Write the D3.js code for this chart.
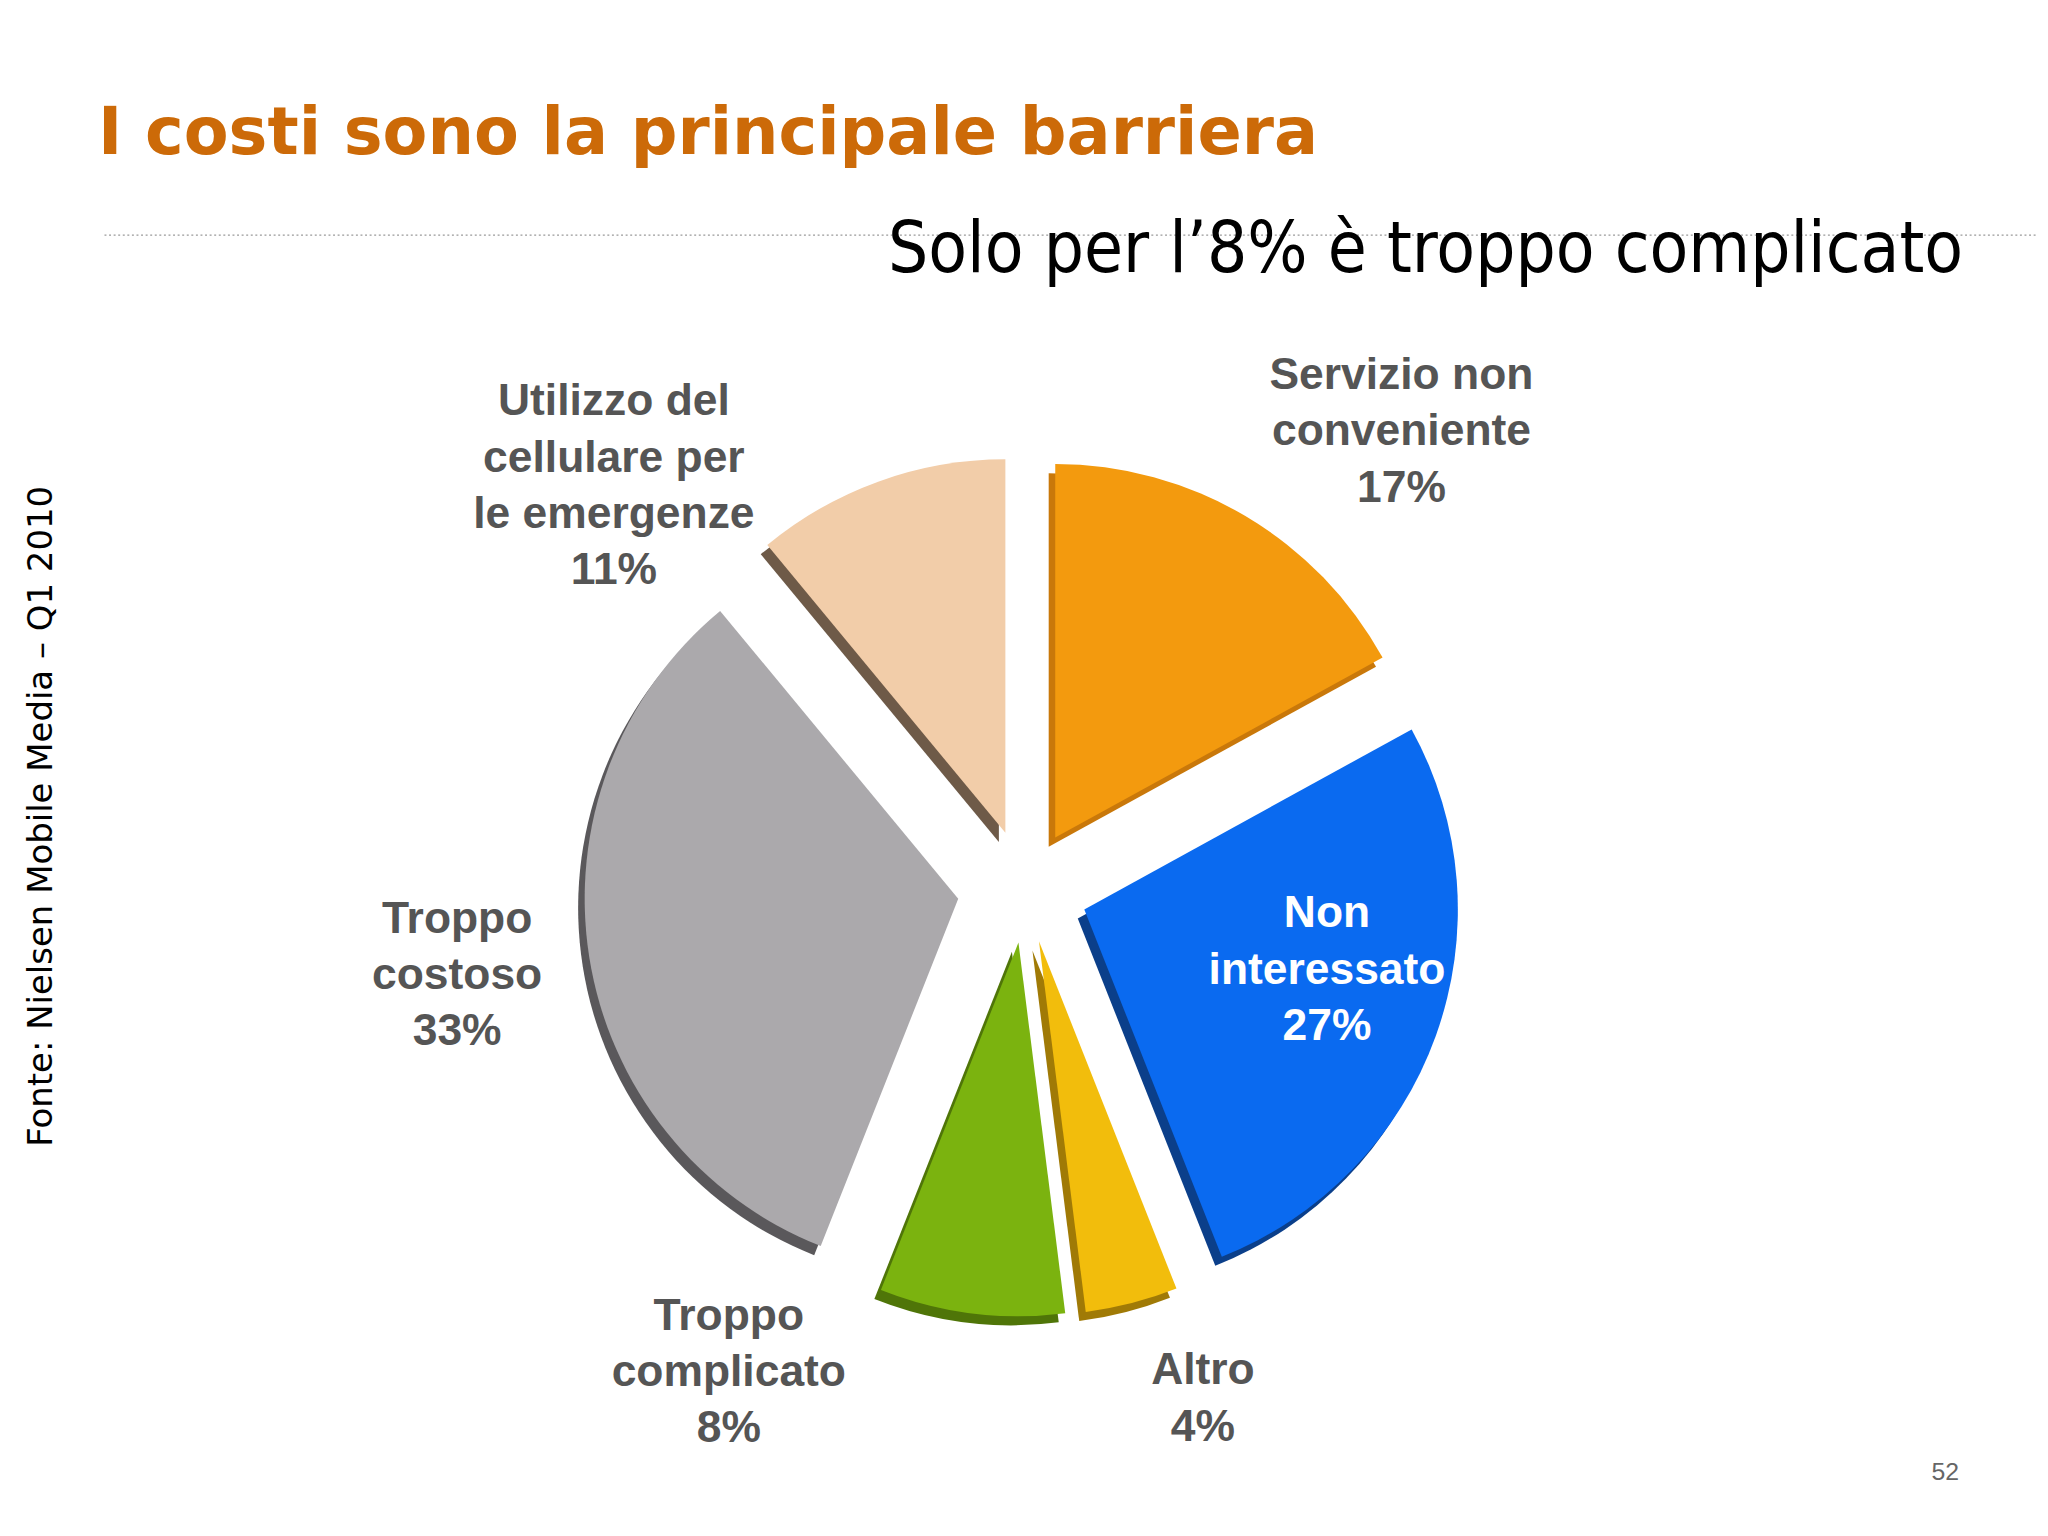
<!DOCTYPE html>
<html><head><meta charset="utf-8">
<script src="https://cdn.jsdelivr.net/npm/d3@7"></script>
<style>body{margin:0;background:#fff}</style>
</head><body>
<svg id="chart"></svg>
<script>
// data
const categories = ['Servizio non conveniente', 'Non interessato', 'Altro', 'Troppo complicato', 'Troppo costoso', 'Utilizzo del cellulare per le emergenze'];
const values = [17, 27, 4, 8, 33, 11];
const labelLines = [
  ['Servizio non', 'conveniente', '17%'],
  ['Non', 'interessato', '27%'],
  ['Altro', '4%'],
  ['Troppo', 'complicato', '8%'],
  ['Troppo', 'costoso', '33%'],
  ['Utilizzo del', 'cellulare per', 'le emergenze', '11%']
];
const colors = ['#f39a0e', '#0a6af0', '#f2bd0c', '#7bb30f', '#aba9ac', '#f2cda9'];
const edgeColors = ['#c9780a', '#0b3f8a', '#a07a06', '#4f7508', '#5a585b', '#6e5a48'];

// layout
const W = 1568, H = 1176;
const cx = 785, cy = 680, R = 286;
const explode = [45, 48, 42, 42, 52, 45];
const labelPos = [[1073, 286], [1016, 698], [921, 1048], [558, 1006], [350, 702], [470, 306]];
const labelFill = ['#555', '#fff', '#555', '#555', '#555', '#555'];

const svg = d3.select('#chart')
  .attr('width', 2048).attr('height', 1536)
  .attr('viewBox', `0 0 ${W} ${H}`);

svg.append('text')
  .attr('x', 75).attr('y', 118)
  .attr('font-family', 'DejaVu Sans').attr('font-weight', 'bold')
  .attr('font-size', 50).attr('fill', '#cc6a08')
  .text('I costi sono la principale barriera');

svg.append('line')
  .attr('x1', 80).attr('x2', 1560).attr('y1', 180).attr('y2', 180)
  .attr('stroke', '#999').attr('stroke-dasharray', '1.5,2');

svg.append('text')
  .attr('x', 1503).attr('y', 208).attr('text-anchor', 'end')
  .attr('font-family', 'DejaVu Sans Condensed, DejaVu Sans').attr('font-size', 54)
  .attr('fill', '#000')
  .text('Solo per l’8% è troppo complicato');

svg.append('text')
  .attr('transform', 'translate(40,625) rotate(-90)')
  .attr('text-anchor', 'middle')
  .attr('font-family', 'DejaVu Sans').attr('font-size', 26)
  .text('Fonte: Nielsen Mobile Media – Q1 2010');

svg.append('text')
  .attr('x', 1500).attr('y', 1133).attr('text-anchor', 'end')
  .attr('font-family', 'Liberation Sans').attr('font-size', 19).attr('fill', '#666')
  .text('52');

const pie = d3.pie().sort(null).value(d => d);
const arcs = pie(values);
const arc = d3.arc().innerRadius(0).outerRadius(R);

const g = svg.append('g').attr('transform', `translate(${cx},${cy})`);

const slices = g.selectAll('g.slice')
  .data(arcs)
  .join('g')
  .attr('class', 'slice')
  .attr('transform', (d, i) => {
    const a = (d.startAngle + d.endAngle) / 2;
    return `translate(${explode[i] * Math.sin(a)},${-explode[i] * Math.cos(a)})`;
  });

// 3D edge
slices.append('path')
  .attr('d', arc)
  .attr('transform', 'translate(-5,7)')
  .attr('fill', (d, i) => edgeColors[i]);

slices.append('path')
  .attr('d', arc)
  .attr('fill', (d, i) => colors[i]);

const labels = svg.selectAll('text.lbl')
  .data(labelLines)
  .join('text')
  .attr('class', 'lbl')
  .attr('text-anchor', 'middle')
  .attr('font-family', 'Liberation Sans, Arial').attr('font-weight', 'bold')
  .attr('font-size', 34)
  .attr('fill', (d, i) => labelFill[i]);

labels.each(function(lines, i) {
  d3.select(this).selectAll('tspan')
    .data(lines)
    .join('tspan')
    .attr('x', labelPos[i][0])
    .attr('y', (l, j) => labelPos[i][1] + 12 + j * 43)
    .text(l => l);
});
</script>
</body></html>
